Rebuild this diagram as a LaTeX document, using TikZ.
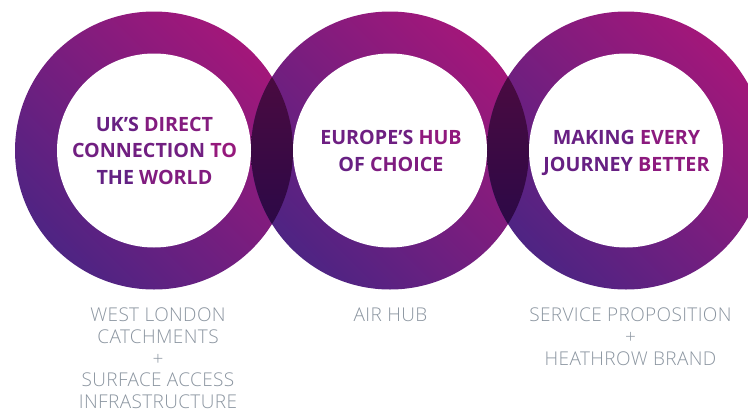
\documentclass[tikz,border=0pt]{standalone}
\usepackage{fontspec}
\setmainfont{Open Sans}
\newfontfamily\lightf{Open Sans}[UprightFont=* Light, LetterSpace=2]
\definecolor{rmag}{HTML}{A3177A}
\definecolor{rpur}{HTML}{4E2483}
\definecolor{lensT}{HTML}{4A0A40}
\definecolor{lensB}{HTML}{2C0947}
\definecolor{tmag}{HTML}{A0177B}
\definecolor{tpur}{HTML}{4F2486}
\definecolor{subgray}{HTML}{8B95A0}
\pgfdeclarehorizontalshading{ringsh}{100bp}{color(0bp)=(rpur); color(25bp)=(rpur); color(75bp)=(rmag); color(100bp)=(rmag)}
\newcommand\wc[2]{\textcolor{tmag!#1!tpur}{#2}}
\begin{document}
\begin{tikzpicture}[x=1pt,y=-1pt,
  inner/.style={inner sep=0pt, anchor=north, align=center, font=\fontsize{19.7}{26.8}\selectfont\bfseries},
  sub/.style={inner sep=0pt, anchor=north, align=center, text=subgray, font=\lightf\fontsize{19}{21.6}\selectfont},
  ring/.style={shading=ringsh, shading angle=45},
  lens/.style={top color=lensT, bottom color=lensB},
  hole/.style={fill=white}]
\useasboundingbox (0,0) rectangle (748,410);
\clip (0,0) rectangle (748,410);
\coordinate (c1) at (154,150.5);
\coordinate (c2) at (390,150.5);
\coordinate (c3) at (626,150.5);
\foreach \c in {c1,c2,c3} \shade[ring] (\c) circle (139pt);
\begin{scope}
  \clip (c1) circle (139pt);
  \clip (c2) circle (139pt);
  \shade[lens] (247,74) rectangle (297,227);
\end{scope}
\begin{scope}
  \clip (c2) circle (139pt);
  \clip (c3) circle (139pt);
  \shade[lens] (483,74) rectangle (533,227);
\end{scope}
\foreach \c in {c1,c2,c3} \fill[hole] (\c) circle (97pt);
\node[inner] (t1) at (154.5,116.7) {\wc{31}{UK’S} \wc{65}{DIRECT}\\\wc{42}{CONNECTION} \wc{87}{TO}\\\wc{25}{THE} \wc{61}{WORLD}};
\node[inner] (t2) at (391,130) {\wc{38}{EUROPE’S} \wc{80}{HUB}\\\wc{29}{OF} \wc{59}{CHOICE}};
\node[inner] (t3) at (626.5,130) {\wc{31}{MAKING} \wc{74}{EVERY}\\\wc{29}{JOURNEY} \wc{76}{BETTER}};
\node[sub] (s1) at (158,308) {WEST LONDON\\CATCHMENTS\\+\\SURFACE ACCESS\\INFRASTRUCTURE};
\node[sub] (s2) at (390.5,308) {AIR HUB};
\node[sub] (s3) at (630.5,308) {SERVICE PROPOSITION\\+\\HEATHROW BRAND};
\end{tikzpicture}
\end{document}
